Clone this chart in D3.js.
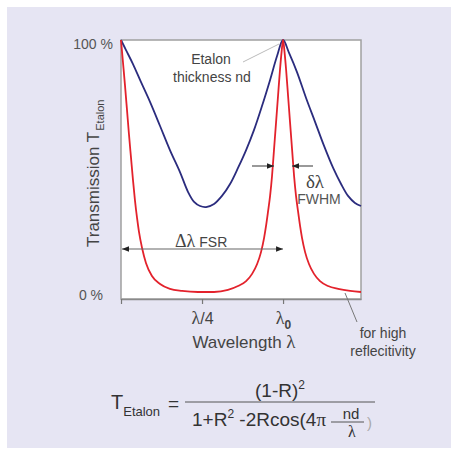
<!DOCTYPE html>
<html>
<head>
<meta charset="utf-8">
<script src="https://cdn.jsdelivr.net/npm/d3@7"></script>
<style>
  body { margin: 0; background: #fff; }
  svg { display: block; font-family: Arial, "Liberation Sans", Helvetica, sans-serif; }
  .serif { font-family: "Liberation Serif", "Times New Roman", serif; }
</style>
</head>
<body>
<div id="chart"></div>
<script>
// wavelength in units of the free spectral range (0 = first peak, 1 = λ0)
const blueX = [0, 0.031, 0.074, 0.123, 0.179, 0.241, 0.302, 0.364, 0.414, 0.451,
  0.488, 0.525, 0.574, 0.623, 0.673, 0.722, 0.772, 0.821, 0.870, 0.920,
  0.963, 1.000, 1.037, 1.086, 1.142, 1.198, 1.253, 1.309, 1.358, 1.401,
  1.444, 1.481];
// low reflectivity transmission
const blueT = [1.000, 0.961, 0.907, 0.838, 0.761, 0.668, 0.575, 0.490, 0.413, 0.375,
  0.359, 0.355, 0.367, 0.398, 0.444, 0.506, 0.575, 0.653, 0.745, 0.846,
  0.938, 1.000, 0.950, 0.876, 0.776, 0.683, 0.591, 0.506, 0.444, 0.398,
  0.371, 0.359];

const redX = [0, 0.012, 0.025, 0.037, 0.049, 0.062, 0.074, 0.086, 0.099, 0.111,
  0.130, 0.154, 0.191, 0.241, 0.302, 0.377, 0.475, 0.574, 0.660, 0.722,
  0.772, 0.809, 0.840, 0.864, 0.883, 0.895, 0.907, 0.920, 0.932, 0.944,
  0.957, 0.969, 0.981, 0.991, 1.000, 1.009, 1.019, 1.031, 1.043, 1.056,
  1.068, 1.080, 1.093, 1.105, 1.117, 1.136, 1.160, 1.191, 1.228, 1.278,
  1.340, 1.414, 1.481];
// high reflectivity transmission
const redT = [1.000, 0.915, 0.822, 0.730, 0.637, 0.544, 0.459, 0.382, 0.313, 0.259,
  0.197, 0.139, 0.089, 0.058, 0.039, 0.031, 0.027, 0.027, 0.035, 0.050,
  0.069, 0.097, 0.135, 0.181, 0.236, 0.282, 0.336, 0.398, 0.475, 0.575,
  0.683, 0.784, 0.884, 0.954, 1.000, 0.954, 0.884, 0.784, 0.683, 0.575,
  0.475, 0.398, 0.336, 0.282, 0.236, 0.181, 0.135, 0.097, 0.069, 0.050,
  0.039, 0.031, 0.027];

const xTicks = [0, 0.5, 1];
const xTickLabels = ['', 'λ/4', 'λ0'];
const yTicks = [0, 1];
const yTickLabels = ['0 %', '100 %'];

const width = 451, height = 455;
const plotLeft = 121, plotRight = 361, plotTop = 40, plotBottom = 299;

const svg = d3.select('#chart').append('svg')
  .attr('width', width)
  .attr('height', height);

// lavender panel
svg.append('rect')
  .attr('x', 7).attr('y', 7)
  .attr('width', width - 7).attr('height', 441)
  .attr('fill', '#e6e5f3');

const defs = svg.append('defs');
defs.append('marker')
  .attr('id', 'arrow')
  .attr('viewBox', '0 0 10 10')
  .attr('refX', 10).attr('refY', 5)
  .attr('markerWidth', 7).attr('markerHeight', 7)
  .attr('markerUnits', 'userSpaceOnUse')
  .attr('orient', 'auto-start-reverse')
  .append('path')
  .attr('d', 'M0,1L10,5L0,9Z')
  .attr('fill', '#222');

const x = d3.scaleLinear().domain([0, 1.481]).range([plotLeft, plotRight]);
const y = d3.scaleLinear().domain([0, 1]).range([plotBottom, plotTop]);

// plot frame
svg.append('rect')
  .attr('x', plotLeft).attr('y', plotTop)
  .attr('width', plotRight - plotLeft).attr('height', plotBottom - plotTop)
  .attr('fill', '#fff')
  .attr('stroke', '#a0a0a0')
  .attr('stroke-width', 1.5);

// x axis
const xAxis = svg.append('g')
  .attr('transform', `translate(0,${plotBottom})`)
  .call(d3.axisBottom(x).tickValues(xTicks).tickSize(5).tickSizeOuter(0).tickFormat(''));
xAxis.select('.domain').attr('stroke', '#8a8a8a').attr('stroke-width', 1.5);
xAxis.selectAll('.tick line').attr('stroke', '#777').attr('stroke-width', 1.2);
xAxis.selectAll('.tick').each(function(d, i) {
  const lab = xTickLabels[i];
  if (!lab) return;
  const t = d3.select(this).append('text')
    .attr('y', 25)
    .attr('fill', '#444')
    .attr('font-size', 16)
    .attr('text-anchor', 'middle');
  t.append('tspan').attr('class', 'serif').attr('font-size', 18).text(lab[0]);
  if (lab[1] === '/') {
    t.append('tspan').text(lab.slice(1));
  } else {
    t.append('tspan').attr('font-size', 12).attr('font-weight', 'bold').attr('dy', 5).text(lab.slice(1));
  }
});

// y axis labels
const yAxis = svg.append('g')
  .attr('transform', `translate(${plotLeft},0)`)
  .call(d3.axisLeft(y).tickValues(yTicks).tickSize(0).tickPadding(8)
    .tickFormat((d, i) => yTickLabels[i]));
yAxis.select('.domain').remove();
yAxis.selectAll('.tick text')
  .attr('fill', '#555')
  .attr('font-size', 14)
  .attr('font-family', 'Arial, "Liberation Sans", sans-serif')
  .attr('dx', d => d === 0 ? -10 : 0)
  .attr('dy', d => d === 0 ? '0.02em' : '0.62em');

// curves
const line = (xs, ys, curve) => d3.line()
  .x((d, i) => x(xs[i]))
  .y(d => y(d))
  .curve(curve)(ys);

svg.append('path')
  .attr('d', line(blueX, blueT, d3.curveCatmullRom.alpha(0.5)))
  .attr('fill', 'none')
  .attr('stroke', '#2b2c7e')
  .attr('stroke-width', 1.8);

svg.append('path')
  .attr('d', line(redX, redT, d3.curveMonotoneX))
  .attr('fill', 'none')
  .attr('stroke', '#e3222c')
  .attr('stroke-width', 1.8);

// FSR arrow
svg.append('line')
  .attr('x1', x(0) + 1).attr('x2', x(1))
  .attr('y1', 249).attr('y2', 249)
  .attr('stroke', '#666').attr('stroke-width', 1.2)
  .attr('marker-start', 'url(#arrow)')
  .attr('marker-end', 'url(#arrow)');
const fsr = svg.append('text').attr('x', 175).attr('y', 247).attr('fill', '#444');
fsr.append('tspan').attr('class', 'serif').attr('font-size', 18).text('Δλ');
fsr.append('tspan').attr('font-size', 14).attr('dx', 4).text('FSR');

// FWHM arrows
svg.append('line')
  .attr('x1', 252).attr('x2', 274).attr('y1', 166).attr('y2', 166)
  .attr('stroke', '#555').attr('stroke-width', 1.2)
  .attr('marker-end', 'url(#arrow)');
svg.append('line')
  .attr('x1', 313).attr('x2', 292).attr('y1', 166).attr('y2', 166)
  .attr('stroke', '#555').attr('stroke-width', 1.2)
  .attr('marker-end', 'url(#arrow)');
svg.append('text').attr('class', 'serif')
  .attr('x', 315).attr('y', 188)
  .attr('text-anchor', 'middle')
  .attr('font-size', 19).attr('fill', '#444')
  .text('δλ');
svg.append('text')
  .attr('x', 319).attr('y', 204)
  .attr('text-anchor', 'middle')
  .attr('font-size', 14).attr('fill', '#555')
  .text('FWHM');

// etalon thickness note
svg.append('line')
  .attr('x1', 243).attr('y1', 62).attr('x2', 279).attr('y2', 44)
  .attr('stroke', '#bbb').attr('stroke-width', 1);
svg.append('text')
  .attr('x', 211).attr('y', 64)
  .attr('text-anchor', 'middle')
  .attr('font-size', 14).attr('fill', '#444')
  .text('Etalon');
svg.append('text')
  .attr('x', 212).attr('y', 82)
  .attr('text-anchor', 'middle')
  .attr('font-size', 14).attr('fill', '#444')
  .text('thickness nd');

// high reflectivity note
svg.append('line')
  .attr('x1', 345).attr('y1', 293).attr('x2', 357).attr('y2', 322)
  .attr('stroke', '#777').attr('stroke-width', 1);
svg.append('text')
  .attr('x', 383).attr('y', 338)
  .attr('text-anchor', 'middle')
  .attr('font-size', 14).attr('fill', '#444')
  .text('for high');
svg.append('text')
  .attr('x', 383).attr('y', 356)
  .attr('text-anchor', 'middle')
  .attr('font-size', 14).attr('fill', '#444')
  .text('reflecitivity');

// axis titles
const xt = svg.append('text')
  .attr('x', 244).attr('y', 348)
  .attr('text-anchor', 'middle')
  .attr('font-size', 17).attr('fill', '#444');
xt.append('tspan').text('Wavelength ');
xt.append('tspan').attr('class', 'serif').attr('font-size', 19).text('λ');

const yt = svg.append('text')
  .attr('transform', 'translate(99,247) rotate(-90)')
  .attr('font-size', 17).attr('fill', '#444');
yt.append('tspan').text('Transmission T');
yt.append('tspan').attr('font-size', 11).attr('dy', 5).attr('dx', 1).text('Etalon');

// formula
const f = svg.append('g').attr('fill', '#333');
const lhs = f.append('text').attr('x', 111).attr('y', 409).attr('font-size', 20);
lhs.append('tspan').text('T');
lhs.append('tspan').attr('font-size', 13).attr('dy', 7).text('Etalon');
f.append('text').attr('x', 168).attr('y', 410).attr('font-size', 19).text('=');
f.append('line')
  .attr('x1', 185).attr('x2', 375).attr('y1', 402).attr('y2', 402)
  .attr('stroke', '#555').attr('stroke-width', 1);
const num = f.append('text').attr('x', 280).attr('y', 397)
  .attr('text-anchor', 'middle').attr('font-size', 19);
num.append('tspan').text('(1-R)');
num.append('tspan').attr('font-size', 12).attr('dy', -8).text('2');
const den = f.append('text').attr('x', 192).attr('y', 426).attr('font-size', 19);
den.append('tspan').text('1+R');
den.append('tspan').attr('font-size', 12).attr('dy', -8).text('2');
den.append('tspan').attr('dy', 8).text(' -2Rcos(4');
den.append('tspan').attr('class', 'serif').text('π');
f.append('text').attr('x', 351).attr('y', 419)
  .attr('text-anchor', 'middle').attr('font-size', 15).text('nd');
f.append('line')
  .attr('x1', 331).attr('x2', 364).attr('y1', 422).attr('y2', 422)
  .attr('stroke', '#555').attr('stroke-width', 1);
f.append('text').attr('class', 'serif').attr('x', 352).attr('y', 437)
  .attr('text-anchor', 'middle').attr('font-size', 16).text('λ');
f.append('text').attr('x', 367).attr('y', 428)
  .attr('font-size', 15).attr('fill', '#aaa').text(')');
</script>
</body>
</html>
